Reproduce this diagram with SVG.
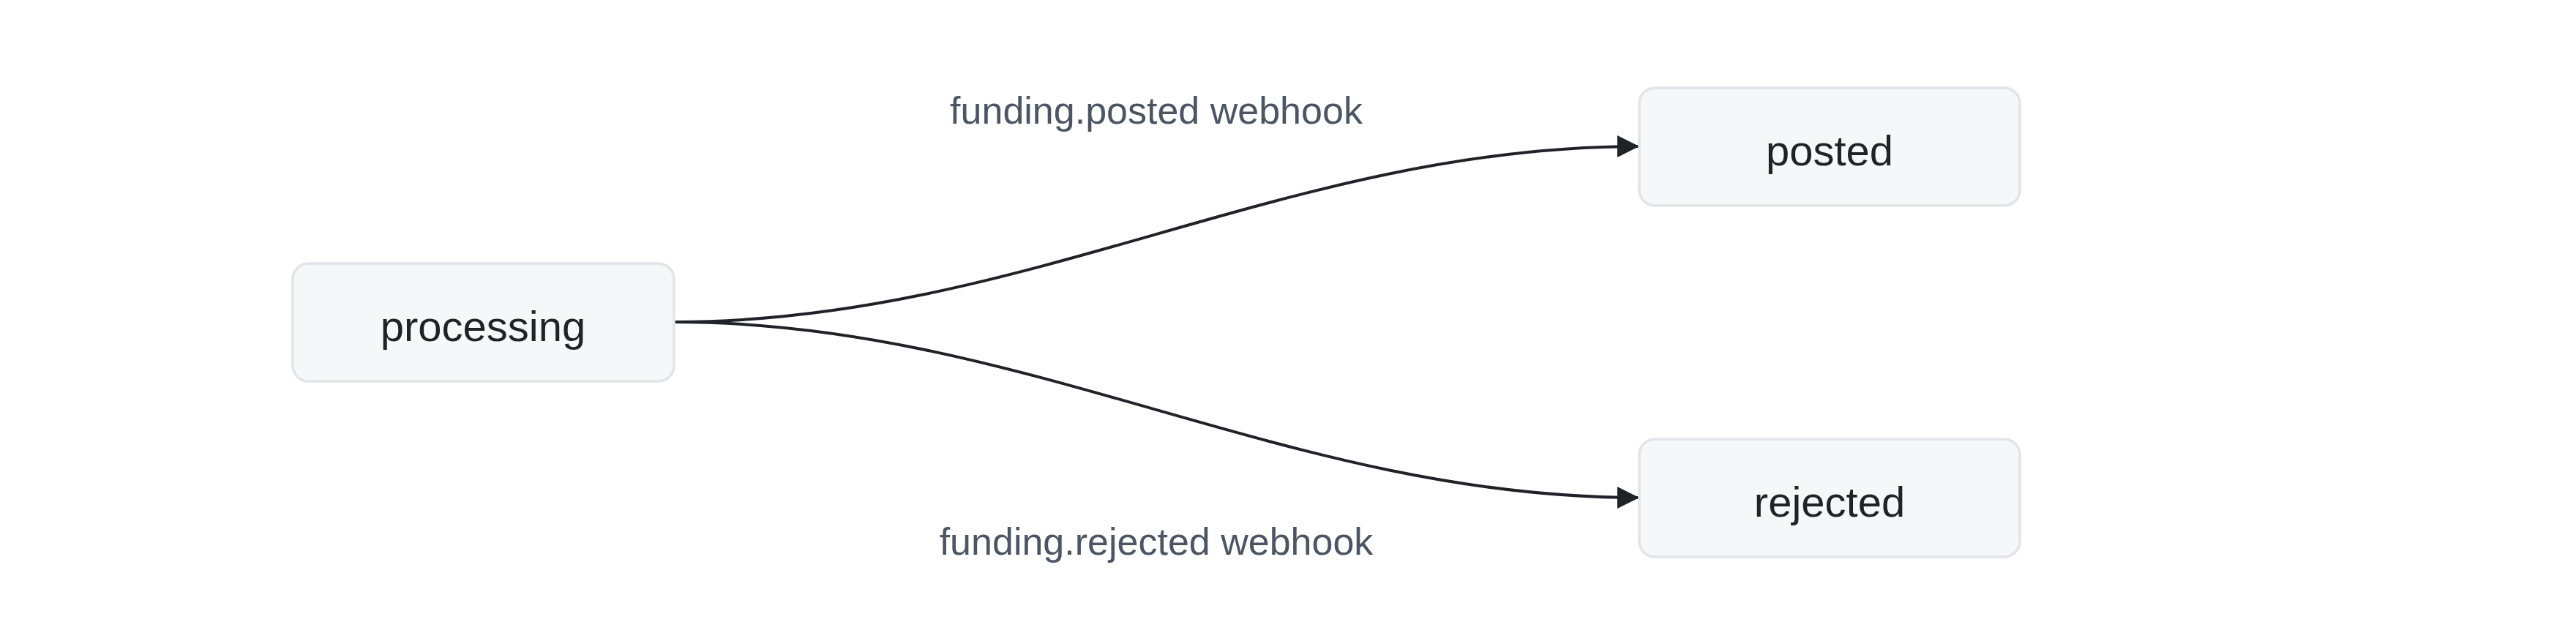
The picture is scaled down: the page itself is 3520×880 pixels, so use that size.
<svg xmlns="http://www.w3.org/2000/svg" width="3520" height="880" viewBox="0 0 3520 880">
<defs>
<style>
.node rect{fill:#f6f7f9;stroke:#e1e4e8;stroke-width:3.6}
.node text{font-family:"Liberation Sans",Arial,sans-serif;font-size:58px;fill:#1f2328;text-anchor:middle}
.edge{fill:none;stroke:#1f2328;stroke-width:4}
.elabel{font-family:"Liberation Sans",Arial,sans-serif;font-size:52px;fill:#4b5563;text-anchor:middle}
</style>
<marker id="arrow" viewBox="0 0 10 10" refX="10" refY="5" markerUnits="userSpaceOnUse" markerWidth="30" markerHeight="30" orient="auto">
<path d="M0,0 L10,5 L0,10 Z" fill="#1f2328"/>
</marker>
</defs>
<g id="edges">
<path class="edge" d="M921,440 C1400,440 1760,200 2240,200" marker-end="url(#arrow)"/>
<path class="edge" d="M921,440 C1400,440 1760,680 2240,680" marker-end="url(#arrow)"/>
<text class="elabel" x="1580" y="169">funding.posted webhook</text>
<text class="elabel" x="1580" y="758">funding.rejected webhook</text>
</g>
<g id="processing" class="node">
<rect x="400" y="360" width="521" height="161" rx="21.6" ry="21.6"/>
<text x="660" y="466">processing</text>
</g>
<g id="posted" class="node">
<rect x="2240" y="120" width="520" height="161" rx="21.6" ry="21.6"/>
<text x="2500" y="226">posted</text>
</g>
<g id="rejected" class="node">
<rect x="2240" y="600" width="520" height="161" rx="21.6" ry="21.6"/>
<text x="2500" y="706">rejected</text>
</g>
</svg>
